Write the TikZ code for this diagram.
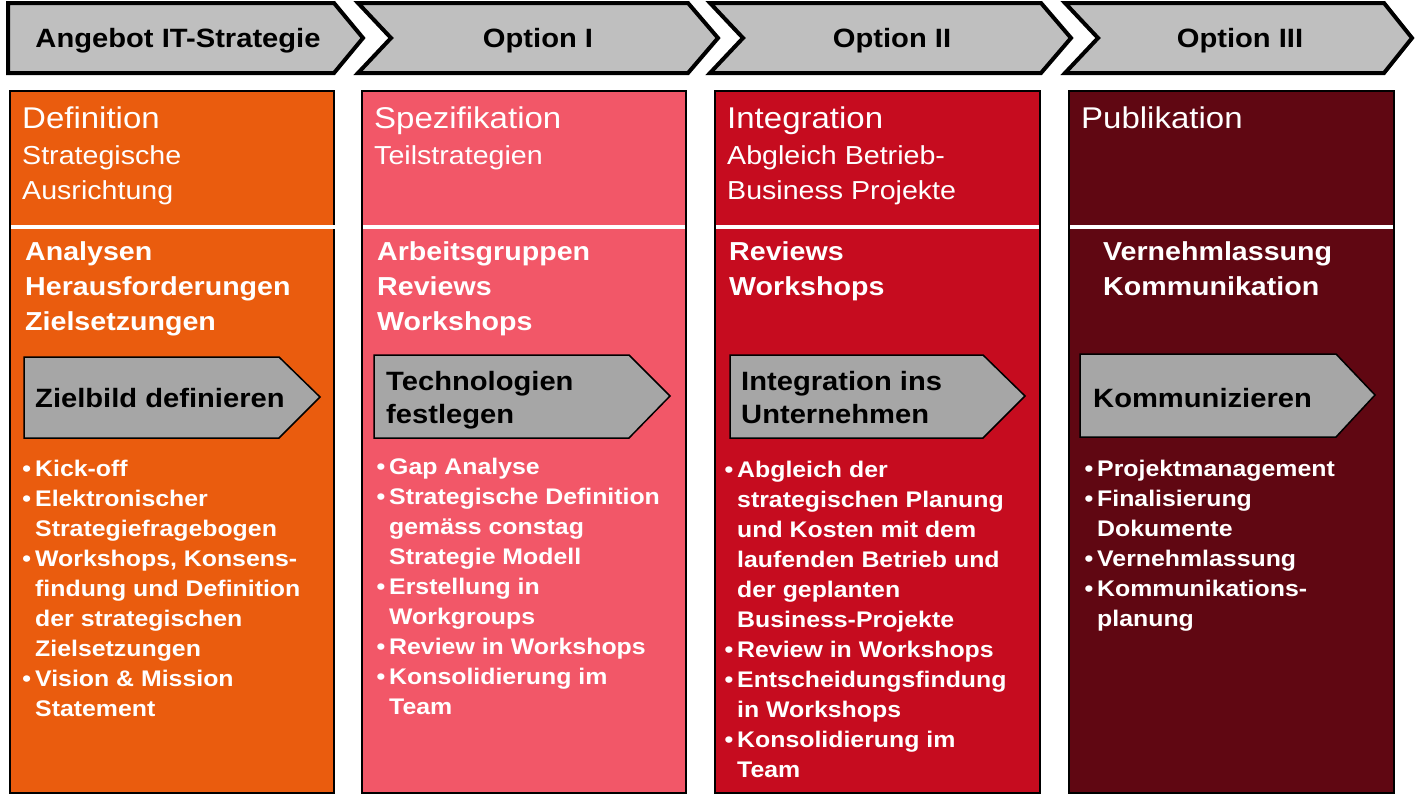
\documentclass[tikz,border=0pt]{standalone}
\usepackage{fontspec}
\setmainfont[FakeStretch=1.1]{Liberation Sans}
\definecolor{hdrgray}{RGB}{191,191,191}
\definecolor{arrgray}{RGB}{166,166,166}
\definecolor{colA}{RGB}{234,92,14}
\definecolor{colB}{RGB}{242,87,104}
\definecolor{colC}{RGB}{198,12,31}
\definecolor{colD}{RGB}{96,7,18}
\newcommand\bulletmark{\llap{\textbullet\kern4pt}}
\begin{document}
\begin{tikzpicture}[x=1pt,y=-1pt,
  chev/.style={draw=black, line width=4pt, fill=hdrgray, line join=miter},
  colbox/.style={draw=black, line width=1.5pt},
  sepline/.style={draw=white, line width=4pt},
  inarrow/.style={draw=black, line width=1.5pt, fill=arrgray},
  hdr/.style={font=\fontsize{26.5}{30}\selectfont\bfseries, anchor=base, inner sep=0pt},
  ttl/.style={font=\fontsize{30}{36}\selectfont, text=white, anchor=base west, inner sep=0pt},
  subt/.style={font=\fontsize{26}{30}\selectfont, text=white, anchor=base west, inner sep=0pt},
  midt/.style={font=\fontsize{26}{30}\selectfont\bfseries, text=white, anchor=base west, inner sep=0pt},
  bul/.style={font=\fontsize{22.6}{26}\selectfont\bfseries, text=white, anchor=base west, inner sep=0pt},
  arrt/.style={font=\fontsize{26.5}{30}\selectfont\bfseries, text=black, anchor=base west, inner sep=0pt}
]
\useasboundingbox (0,0) rectangle (1416,798);
\fill[white] (0,0) rectangle (1416,798);

% header chevrons
\draw[chev] (8,3) -- (334,3) -- (363,38) -- (334,73) -- (8,73) -- cycle;
\draw[chev] (358,3) -- (688,3) -- (718,38) -- (688,73) -- (358,73) -- (391,38) -- cycle;
\draw[chev] (710,3) -- (1041,3) -- (1071,38) -- (1041,73) -- (710,73) -- (743,38) -- cycle;
\draw[chev] (1065,3) -- (1384,3) -- (1412,38) -- (1384,73) -- (1065,73) -- (1098,38) -- cycle;
\node[hdr] (h1) at (178,47) {Angebot IT-Strategie};
\node[hdr] (h2) at (538,47) {Option I};
\node[hdr] (h3) at (892,47) {Option II};
\node[hdr] (h4) at (1240,47) {Option III};

% column boxes
\draw[colbox, fill=colA] (10,91) rectangle (334,793);
\draw[colbox, fill=colB] (362,91) rectangle (686,793);
\draw[colbox, fill=colC] (715,91) rectangle (1040,793);
\draw[colbox, fill=colD] (1069,91) rectangle (1394,793);
\draw[sepline] (11,227) -- (350,227);
\draw[sepline] (363,227) -- (685,227);
\draw[sepline] (716,227) -- (1039,227);
\draw[sepline] (1070,227) -- (1393,227);

% inner arrows
\draw[inarrow] (24,357) -- (279,357) -- (320,397) -- (279,438) -- (24,438) -- cycle;
\draw[inarrow] (374,355) -- (629,355) -- (670,396) -- (629,438) -- (374,438) -- cycle;
\draw[inarrow] (730,355) -- (983,355) -- (1025,396) -- (983,438) -- (730,438) -- cycle;
\draw[inarrow] (1080,354) -- (1336,354) -- (1375,395) -- (1336,437) -- (1080,437) -- cycle;
\node[arrt] (a1) at (35,407) {Zielbild definieren};
\node[arrt] (a2a) at (386,390) {Technologien};
\node[arrt] (a2b) at (386,423) {festlegen};
\node[arrt] (a3a) at (741,390) {Integration ins};
\node[arrt] (a3b) at (741,423) {Unternehmen};
\node[arrt] (a4) at (1093,407) {Kommunizieren};

% column 1
\node[ttl] (t1) at (22,128) {Definition};
\node[subt] (s1a) at (22,164) {Strategische};
\node[subt] (s1b) at (22,199) {Ausrichtung};
\foreach \t [count=\i from 0] in {Analysen,Herausforderungen,Zielsetzungen}
  \node[midt] (m1\i) at (25,260+35*\i) {\t};
\foreach \t [count=\i from 0] in {{\bulletmark Kick-off},{\bulletmark Elektronischer},Strategiefragebogen,{\bulletmark Workshops, Konsens-},findung und Definition,der strategischen,Zielsetzungen,{\bulletmark Vision \& Mission},Statement}
  \node[bul] (b1\i) at (35,476+30*\i) {\t};

% column 2
\node[ttl] (t2) at (374,128) {Spezifikation};
\node[subt] (s2a) at (374,164) {Teilstrategien};
\foreach \t [count=\i from 0] in {Arbeitsgruppen,Reviews,Workshops}
  \node[midt] (m2\i) at (377,260+35*\i) {\t};
\foreach \t [count=\i from 0] in {{\bulletmark Gap Analyse},{\bulletmark Strategische Definition},gemäss constag,Strategie Modell,{\bulletmark Erstellung in},Workgroups,{\bulletmark Review in Workshops},{\bulletmark Konsolidierung im},Team}
  \node[bul] (b2\i) at (389,474+30*\i) {\t};

% column 3
\node[ttl] (t3) at (727,128) {Integration};
\node[subt] (s3a) at (727,164) {Abgleich Betrieb-};
\node[subt] (s3b) at (727,199) {Business Projekte};
\foreach \t [count=\i from 0] in {Reviews,Workshops}
  \node[midt] (m3\i) at (729,260+35*\i) {\t};
\foreach \t [count=\i from 0] in {{\bulletmark Abgleich der},strategischen Planung,und Kosten mit dem,laufenden Betrieb und,der geplanten,Business-Projekte,{\bulletmark Review in Workshops},{\bulletmark Entscheidungsfindung},in Workshops,{\bulletmark Konsolidierung im},Team}
  \node[bul] (b3\i) at (737,477+30*\i) {\t};

% column 4
\node[ttl] (t4) at (1081,128) {Publikation};
\foreach \t [count=\i from 0] in {Vernehmlassung,Kommunikation}
  \node[midt] (m4\i) at (1103,260+35*\i) {\t};
\foreach \t [count=\i from 0] in {{\bulletmark Projektmanagement},{\bulletmark Finalisierung},Dokumente,{\bulletmark Vernehmlassung},{\bulletmark Kommunikations-},planung}
  \node[bul] (b4\i) at (1097,476+30*\i) {\t};
\end{tikzpicture}
\end{document}
